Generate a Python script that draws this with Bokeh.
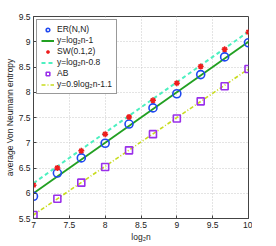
from bokeh.plotting import figure
from bokeh.models import FixedTicker, Legend, LegendItem
from bokeh.embed import file_html
from bokeh.resources import INLINE

# data
x_vals = [7.0, 7.333, 7.667, 8.0, 8.333, 8.667, 9.0, 9.333, 9.667, 10.0]
er_vals = [5.94, 6.40, 6.70, 6.99, 7.37, 7.69, 7.97, 8.35, 8.70, 8.98]
sw_vals = [6.16, 6.50, 6.84, 7.17, 7.51, 7.84, 8.18, 8.51, 8.85, 9.19]
ab_vals = [5.57, 5.89, 6.21, 6.52, 6.85, 7.17, 7.48, 7.82, 8.12, 8.46]

fit_x = [7.0, 10.0]
er_fit = [6.0, 9.0]
sw_fit = [6.2, 9.2]
ab_fit = [5.57, 8.46]

x_ticks = [7, 7.5, 8, 8.5, 9, 9.5, 10]
y_ticks = [5.5, 6, 6.5, 7, 7.5, 8, 8.5, 9, 9.5]

labels = ["ER(N,N)", "y=log\u2082n-1", "SW(0.1,2)", "y=log\u2082n-0.8", "AB", "y=0.9log\u2082n-1.1"]

FONT = "Liberation Sans"

p = figure(frame_width=215, frame_height=202, x_range=(7, 10), y_range=(5.5, 9.5),
           output_backend="svg", toolbar_location=None,
           min_border_left=33, min_border_top=16, min_border_right=4, min_border_bottom=12)
p.background_fill_color = "white"
p.outline_line_color = "#444444"
p.outline_line_width = 1

for ax in (p.xaxis[0], p.yaxis[0]):
    ax.major_label_text_font = FONT
    ax.major_label_text_font_size = "8.5px"
    ax.major_label_text_color = "#222222"
    ax.axis_label_text_font = FONT
    ax.axis_label_text_font_size = "8.5px"
    ax.axis_label_text_font_style = "normal"
    ax.axis_label_text_color = "#222222"
    ax.axis_line_color = "#444444"
    ax.major_tick_line_color = "#444444"
    ax.major_tick_in = 3
    ax.major_tick_out = 0
    ax.minor_tick_line_color = None
    ax.major_label_standoff = 3
    ax.axis_label_standoff = 1

p.xaxis.ticker = FixedTicker(ticks=x_ticks)
p.yaxis.ticker = FixedTicker(ticks=y_ticks)
p.xaxis.axis_label = "log\u2082n"
p.yaxis.axis_label = "average Von Neumann entropy"

p.grid.grid_line_color = "#c8c8c8"
p.grid.grid_line_dash = "1 2"
p.grid.grid_line_width = 1
p.xgrid.ticker = FixedTicker(ticks=x_ticks)
p.ygrid.ticker = FixedTicker(ticks=y_ticks)

r_er_fit = p.line(fit_x, er_fit, line_color="#22a022", line_width=2)
r_sw_fit = p.line(fit_x, sw_fit, line_color="#4df0c0", line_width=2, line_dash="4 3")
r_ab_fit = p.line(fit_x, ab_fit, line_color="#c8dc1e", line_width=1.6, line_dash="4 2 1 2")

r_er = p.scatter(x_vals, er_vals, marker="circle", size=8, fill_color=None,
                 line_color="#1f48f0", line_width=1.6)
r_sw = p.scatter(x_vals, sw_vals, marker="asterisk", size=6,
                 line_color="#ee1c1c", line_width=1.5)
r_ab = p.scatter(x_vals, ab_vals, marker="square", size=7, fill_color=None,
                 line_color="#9a30ea", line_width=1.6)

items = [LegendItem(label=lab, renderers=[r]) for lab, r in
         zip(labels, [r_er, r_er_fit, r_sw, r_sw_fit, r_ab, r_ab_fit])]
legend = Legend(items=items, location="top_left")
legend.margin = 3
legend.padding = 4
legend.spacing = 1
legend.label_height = 9
legend.glyph_height = 9
legend.glyph_width = 13
legend.label_standoff = 3
legend.label_text_font = FONT
legend.label_text_font_size = "8.5px"
legend.label_text_color = "#222222"
legend.border_line_color = "#333333"
legend.border_line_width = 1
legend.background_fill_alpha = 1
p.add_layout(legend)

open("out.html", "w").write(file_html(p, INLINE))
